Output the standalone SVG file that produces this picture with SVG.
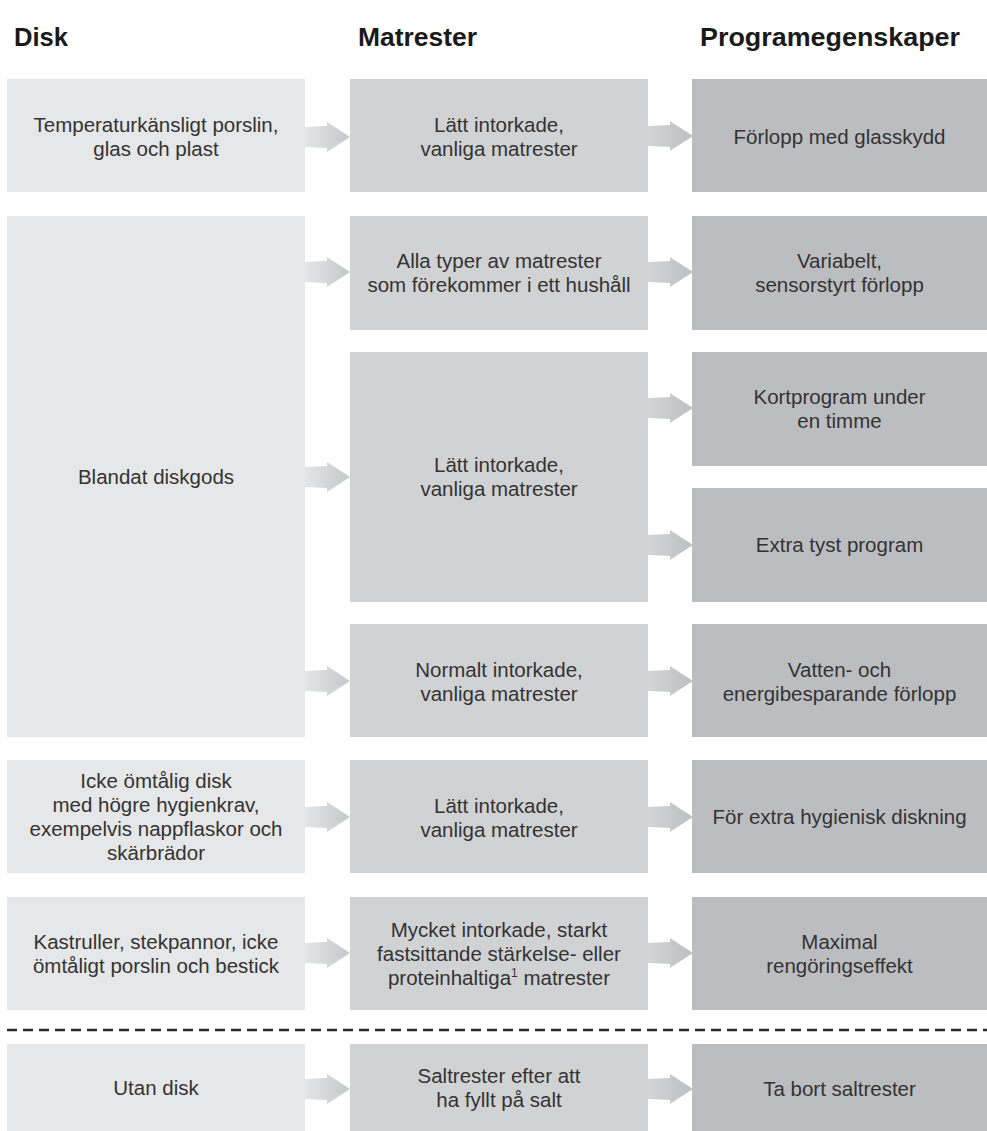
<svg xmlns="http://www.w3.org/2000/svg" width="987" height="1131" viewBox="0 0 987 1131">
<defs>
<linearGradient id="g1" x1="0" y1="0" x2="1" y2="0">
<stop offset="0" stop-color="#e4e5e6"/>
<stop offset="1" stop-color="#c6c7c8"/>
</linearGradient>
<linearGradient id="g2" x1="0" y1="0" x2="1" y2="0">
<stop offset="0" stop-color="#d3d4d5"/>
<stop offset="1" stop-color="#bebfc0"/>
</linearGradient>
<polygon id="arr" points="0,-10 22,-11 22,-15 45,0 22,15 22,11 0,10"/>
</defs>
<style>
.c1{fill:#e6e7e8}
.c2{fill:#d1d2d4}
.c3{fill:#bcbdc0}
text{font-family:"Liberation Sans",Arial,sans-serif;font-size:20.5px;fill:#333333;text-anchor:middle}
.h{font-weight:bold;font-size:26px;text-anchor:start;fill:#1a1a1a}
.a1{fill:url(#g1)}
.a2{fill:url(#g2)}
</style>
<rect width="987" height="1131" fill="#ffffff"/>
<g id="headers">
<text class="h" x="14" y="46" textLength="54" lengthAdjust="spacingAndGlyphs">Disk</text>
<text class="h" x="358" y="46" textLength="119" lengthAdjust="spacingAndGlyphs">Matrester</text>
<text class="h" x="700" y="46" textLength="260" lengthAdjust="spacingAndGlyphs">Programegenskaper</text>
</g>
<g id="d1"><rect class="c1" x="7" y="79" width="298" height="113"/><text x="156" y="132">Temperaturkänsligt porslin,</text><text x="156" y="156">glas och plast</text></g>
<g id="d2"><rect class="c1" x="7" y="216" width="298" height="521"/><text x="156" y="484">Blandat diskgods</text></g>
<g id="d3"><rect class="c1" x="7" y="760" width="298" height="113"/><text x="156" y="788">Icke ömtålig disk</text><text x="156" y="812">med högre hygienkrav,</text><text x="156" y="836">exempelvis nappflaskor och</text><text x="156" y="860">skärbrädor</text></g>
<g id="d4"><rect class="c1" x="7" y="897" width="298" height="113"/><text x="156" y="949">Kastruller, stekpannor, icke</text><text x="156" y="973">ömtåligt porslin och bestick</text></g>
<g id="d5"><rect class="c1" x="7" y="1044" width="298" height="87"/><text x="156" y="1095">Utan disk</text></g>
<g id="m1"><rect class="c2" x="350" y="79" width="298" height="113"/><text x="499" y="132">Lätt intorkade,</text><text x="499" y="156">vanliga matrester</text></g>
<g id="m2"><rect class="c2" x="350" y="216" width="298" height="114"/><text x="499" y="268">Alla typer av matrester</text><text x="499" y="292">som förekommer i ett hushåll</text></g>
<g id="m3"><rect class="c2" x="350" y="352" width="298" height="250"/><text x="499" y="472">Lätt intorkade,</text><text x="499" y="496">vanliga matrester</text></g>
<g id="m4"><rect class="c2" x="350" y="624" width="298" height="113"/><text x="499" y="677">Normalt intorkade,</text><text x="499" y="701">vanliga matrester</text></g>
<g id="m5"><rect class="c2" x="350" y="760" width="298" height="113"/><text x="499" y="813">Lätt intorkade,</text><text x="499" y="837">vanliga matrester</text></g>
<g id="m6"><rect class="c2" x="350" y="897" width="298" height="113"/><text x="499" y="937">Mycket intorkade, starkt</text><text x="499" y="961">fastsittande stärkelse- eller</text><text x="499" y="985">proteinhaltiga<tspan font-size="12" dy="-8">1</tspan><tspan dy="8"> matrester</tspan></text></g>
<g id="m7"><rect class="c2" x="350" y="1044" width="298" height="87"/><text x="499" y="1083">Saltrester efter att</text><text x="499" y="1107">ha fyllt på salt</text></g>
<g id="p1"><rect class="c3" x="692" y="79" width="295" height="113"/><text x="839.5" y="144">Förlopp med glasskydd</text></g>
<g id="p2"><rect class="c3" x="692" y="216" width="295" height="114"/><text x="839.5" y="268">Variabelt,</text><text x="839.5" y="292">sensorstyrt förlopp</text></g>
<g id="p3"><rect class="c3" x="692" y="352" width="295" height="114"/><text x="839.5" y="404">Kortprogram under</text><text x="839.5" y="428">en timme</text></g>
<g id="p4"><rect class="c3" x="692" y="488" width="295" height="114"/><text x="839.5" y="552">Extra tyst program</text></g>
<g id="p5"><rect class="c3" x="692" y="624" width="295" height="113"/><text x="839.5" y="677">Vatten- och</text><text x="839.5" y="701">energibesparande förlopp</text></g>
<g id="p6"><rect class="c3" x="692" y="760" width="295" height="113"/><text x="839.5" y="824">För extra hygienisk diskning</text></g>
<g id="p7"><rect class="c3" x="692" y="897" width="295" height="113"/><text x="839.5" y="949">Maximal</text><text x="839.5" y="973">rengöringseffekt</text></g>
<g id="p8"><rect class="c3" x="692" y="1044" width="295" height="87"/><text x="839.5" y="1096">Ta bort saltrester</text></g>
<g id="connectors">
<use href="#arr" class="a1" x="305" y="137"/>
<use href="#arr" class="a1" x="305" y="272"/>
<use href="#arr" class="a1" x="305" y="477"/>
<use href="#arr" class="a1" x="305" y="681"/>
<use href="#arr" class="a1" x="305" y="817"/>
<use href="#arr" class="a1" x="305" y="953"/>
<use href="#arr" class="a1" x="305" y="1089"/>
<use href="#arr" class="a2" x="648" y="136"/>
<use href="#arr" class="a2" x="648" y="272"/>
<use href="#arr" class="a2" x="648" y="408"/>
<use href="#arr" class="a2" x="648" y="545"/>
<use href="#arr" class="a2" x="648" y="681"/>
<use href="#arr" class="a2" x="648" y="817"/>
<use href="#arr" class="a2" x="648" y="953"/>
<use href="#arr" class="a2" x="648" y="1089"/>
<line x1="7" y1="1030" x2="987" y2="1030" stroke="#2b2b2b" stroke-width="2.5" stroke-dasharray="10 6"/>
</g>
</svg>
